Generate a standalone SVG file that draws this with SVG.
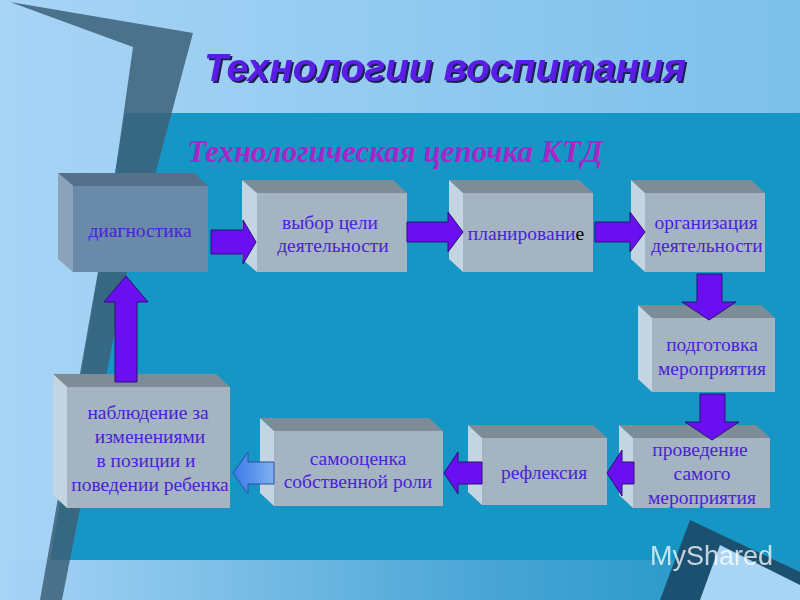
<svg xmlns="http://www.w3.org/2000/svg" width="800" height="600" viewBox="0 0 800 600">
<defs>
<linearGradient id="bg" x1="0" y1="0" x2="1" y2="0"><stop offset="0" stop-color="#a8d4f6"/><stop offset="1" stop-color="#7cc0ea"/></linearGradient>
<linearGradient id="bot" x1="0" y1="0" x2="1" y2="0"><stop offset="0" stop-color="#a8d4f6"/><stop offset="0.6" stop-color="#4aa6d6"/><stop offset="1" stop-color="#1a94c4"/></linearGradient>
<linearGradient id="la" x1="0" y1="0" x2="1" y2="0"><stop offset="0" stop-color="#3a7ae8"/><stop offset="1" stop-color="#80b0f0"/></linearGradient>
<filter id="sh"><feDropShadow dx="2" dy="2" stdDeviation="0.5" flood-color="#1a2050"/></filter>
</defs>
<style>
.top{fill:#7e8c98}.side{fill:#c4d4e0}.front{fill:#a4b4c2}
.t{font-family:"Liberation Serif",serif;font-size:19.5px;fill:#4a22d8;text-anchor:middle}
.ar{fill:#6a10f0;stroke:#2a1070;stroke-width:1}
</style>
<rect width="800" height="600" fill="url(#bg)"/>
<polygon points="125,113 800,113 800,562 50,562" fill="#1596c4"/>
<rect x="0" y="560" width="800" height="40" fill="url(#bot)"/>
<polygon points="10,2 193,33 155,175 125,280 62,600 40,600 115,175 133,47" fill="#3c6078" opacity="0.85"/>
<polygon points="690,520 800,572 800,600 660,600" fill="#1c5070"/>
<polygon points="720,545 800,585 800,600 700,600" fill="#a8d4f6"/>
<text x="445" y="81" text-anchor="middle" font-family="Liberation Sans,sans-serif" font-size="39" font-weight="bold" font-style="italic" fill="#5a1ee6" filter="url(#sh)">Технологии воспитания</text>
<text x="395" y="162" text-anchor="middle" font-family="Liberation Serif,serif" font-size="31" font-weight="bold" font-style="italic" fill="#a626c8">Технологическая цепочка КТД</text>
<g id="n1"><polygon points="58,173 194,173 208,186 73,186" fill="#54708a"/><polygon points="58,173 73,186 73,272 58,259" fill="#8aa2ba"/><rect x="73" y="186" width="135" height="86" fill="#6a8aaa"/><text class="t" x="140" y="237">диагностика</text></g>
<g id="n2"><polygon points="242,180 393,180 407,193 257,193" class="top"/><polygon points="242,180 257,193 257,272 242,259" class="side"/><rect x="257" y="193" width="150" height="79" class="front"/><text class="t" x="330" y="229">выбор цели</text><text class="t" x="333" y="252">деятельности</text></g>
<g id="n3"><polygon points="449,180 579,180 593,193 463,193" class="top"/><polygon points="449,180 463,193 463,272 449,259" class="side"/><rect x="463" y="193" width="130" height="79" class="front"/><text class="t" x="526" y="240" font-size="17">планировани<tspan fill="#000">е</tspan></text></g>
<g id="n4"><polygon points="631,180 751,180 765,193 645,193" class="top"/><polygon points="631,180 645,193 645,272 631,259" class="side"/><rect x="645" y="193" width="120" height="79" class="front"/><text class="t" x="706" y="229" font-size="18">организация</text><text class="t" x="707" y="252" font-size="18">деятельности</text></g>
<g id="n5"><polygon points="638,305 761,305 775,318 652,318" class="top"/><polygon points="638,305 652,318 652,392 638,379" class="side"/><rect x="652" y="318" width="123" height="74" class="front"/><text class="t" x="712" y="351" font-size="18">подготовка</text><text class="t" x="712" y="375" font-size="18">мероприятия</text></g>
<g id="n6"><polygon points="619,425 756,425 770,438 633,438" class="top"/><polygon points="619,425 633,438 633,508 619,495" class="side"/><rect x="633" y="438" width="137" height="70" class="front"/><text class="t" x="700" y="456" font-size="18">проведение</text><text class="t" x="702" y="480" font-size="18">самого</text><text class="t" x="702" y="504" font-size="18">мероприятия</text></g>
<g id="n7"><polygon points="468,425 593,425 607,438 482,438" class="top"/><polygon points="468,425 482,438 482,505 468,492" class="side"/><rect x="482" y="438" width="125" height="67" class="front"/><text class="t" x="544" y="479">рефлексия</text></g>
<g id="n8"><polygon points="260,418 429,418 443,431 274,431" class="top"/><polygon points="260,418 274,431 274,506 260,493" class="side"/><rect x="274" y="431" width="169" height="75" class="front"/><text class="t" x="358" y="465" font-size="18">самооценка</text><text class="t" x="358" y="488" font-size="18">собственной роли</text></g>
<g id="n9"><polygon points="53,374 216,374 230,387 67,387" class="top"/><polygon points="53,374 67,387 67,508 53,495" class="side"/><rect x="67" y="387" width="163" height="121" class="front"/><text class="t" x="148" y="419" font-size="18.5">наблюдение за</text><text class="t" x="150" y="443" font-size="18.5">изменениями</text><text class="t" x="146" y="467" font-size="18.5">в позиции и</text><text class="t" x="150" y="491" font-size="18.5">поведении ребенка</text></g>
<g id="connectors">
<polygon class="ar" points="211,230 243,230 243,220 256,242 243,264 243,254 211,254"/>
<polygon class="ar" points="407,222 448,222 448,212 463,232 448,252 448,242 407,242"/>
<polygon class="ar" points="595,222 630,222 630,212 645,232 630,252 630,242 595,242"/>
<polygon class="ar" points="697,274 722,274 722,302 736,302 709,320 682,302 697,302"/>
<polygon class="ar" points="700,394 725,394 725,422 739,422 712,440 685,422 700,422"/>
<polygon class="ar" points="634,462 622,462 622,450 607,473 622,496 622,484 634,484"/>
<polygon class="ar" points="482,462 458,462 458,452 444,473 458,494 458,484 482,484"/>
<polygon points="274,462 248,462 248,452 233,473 248,494 248,484 274,484" fill="url(#la)" stroke="#2a50a0" stroke-width="1"/>
<polygon class="ar" points="115,382 137,382 137,302 148,302 126,276 104,302 115,302"/>
</g>
<text x="650" y="565" font-family="Liberation Sans,sans-serif" font-size="27" fill="#ffffff" opacity="0.75">MyShared</text>
</svg>
